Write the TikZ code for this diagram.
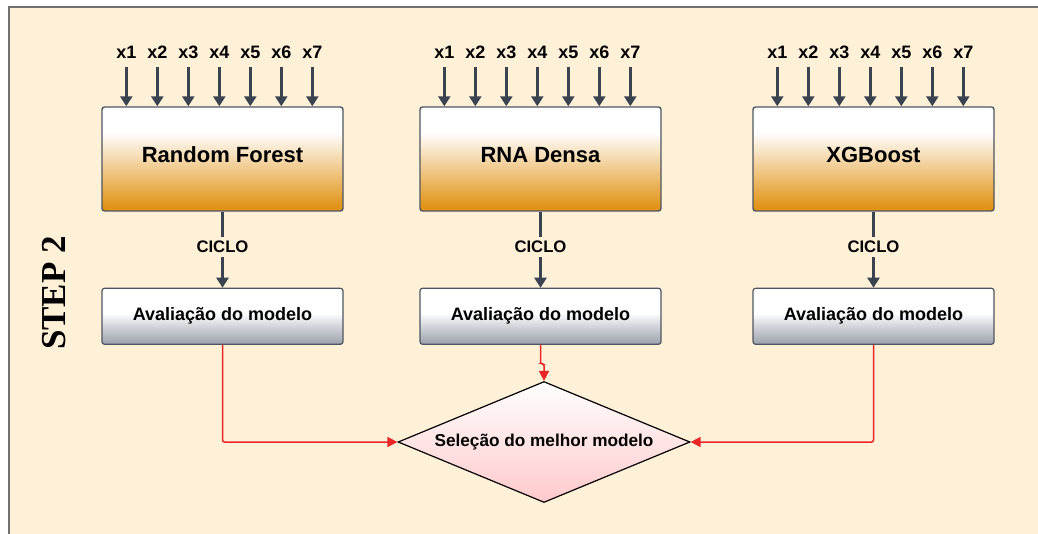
\documentclass[tikz,border=0pt]{standalone}
\usepackage{fontspec}
\setmainfont{Liberation Serif}
\setsansfont{Liberation Sans}
\usetikzlibrary{shapes.geometric, arrows.meta, positioning, calc}

\definecolor{bgcream}{HTML}{FFF1D8}
\definecolor{frameline}{HTML}{707070}
\definecolor{modelorange}{HTML}{E0900F}
\definecolor{evalgray}{HTML}{9BA1AC}
\definecolor{arrowslate}{HTML}{3A4350}
\definecolor{linkred}{HTML}{E8262A}
\definecolor{selpink}{HTML}{FFC9CB}

\pgfdeclareverticalshading{modelshade}{100bp}{color(0bp)=(modelorange); color(25bp)=(modelorange);
    color(29bp)=(modelorange!92!white); color(50bp)=(modelorange!35!white); color(63bp)=(white); color(100bp)=(white)}
\pgfdeclareverticalshading{evalshade}{100bp}{color(0bp)=(evalgray); color(25bp)=(evalgray);
    color(40bp)=(evalgray!50!white); color(53bp)=(white); color(100bp)=(white)}

\begin{document}
\begin{tikzpicture}[
    x=1pt, y=-1pt,
    node distance=76pt,
    model/.style={
        rectangle,
        draw=arrowslate!90,
        line width=1.4pt,
        rounded corners=2.5pt,
        shading=modelshade,
        minimum width=241pt,
        minimum height=104pt,
        align=center,
        text depth=8pt,
        font=\sffamily\bfseries\fontsize{22}{24}\selectfont
    },
    evalbox/.style={
        rectangle,
        draw=arrowslate!90,
        line width=1.2pt,
        rounded corners=2.5pt,
        shading=evalshade,
        minimum width=241pt,
        minimum height=56pt,
        align=center,
        font=\sffamily\bfseries\fontsize{18}{20}\selectfont
    },
    choice/.style={
        diamond,
        aspect=2.41,
        draw=black,
        line width=1.2pt,
        top color=white,
        bottom color=selpink,
        minimum width=292pt,
        minimum height=121pt,
        inner sep=0pt,
        align=center,
        font=\sffamily\bfseries\fontsize{17.2}{19}\selectfont
    },
    feature/.style={
        font=\sffamily\bfseries\fontsize{18}{20}\selectfont,
        inner sep=0pt
    },
    cycle/.style={
        fill=bgcream,
        inner sep=4pt,
        yshift=3pt,
        font=\sffamily\bfseries\fontsize{16.7}{18}\selectfont
    },
    arrow/.style={
        draw=arrowslate,
        line width=2.6pt,
        -{Triangle[length=10pt,width=12pt]}
    },
    redarrow/.style={
        draw=linkred,
        line width=1.5pt,
        rounded corners=2pt,
        -{Triangle[length=10pt,width=10pt]}
    }
]
    % Background
    \useasboundingbox (0,0) rectangle (1038,534);
    \fill [bgcream, draw=frameline, line width=1.2pt] (9,7) rectangle (1045,545);

    \node [rotate=90, font=\bfseries\fontsize{35}{38}\selectfont] (step) at (54,293) {STEP 2};

    % Nodes
    \node [model] (rf) at (222.5,159) {Random Forest};
    \node [model] (rna) at (540.5,159) {RNA Densa};
    \node [model] (xgb) at (873.5,159) {XGBoost};

    \node [evalbox, below=of rf] (rfeval) {Avaliação do modelo};
    \node [evalbox, below=of rna] (rnaeval) {Avaliação do modelo};
    \node [evalbox, below=of xgb] (xgbeval) {Avaliação do modelo};

    \node [choice] (sel) at (544,442) {Seleção do melhor modelo};

    % Inputs
    \foreach \m in {rf, rna, xgb} {
        \foreach \i in {1,...,7} {
            \node [feature] (\m x\i) at ($(\m.north west)+({25+31*(\i-1)},-54)$) {x\i};
            \draw [arrow] (\m x\i.south) ++(0,8) coordinate (\m s\i) -- (\m s\i |- \m.north);
        }
    }

    % Arrows
    \draw [arrow] (rf) -- node [cycle] {CICLO} (rfeval);
    \draw [arrow] (rna) -- node [cycle] {CICLO} (rnaeval);
    \draw [arrow] (xgb) -- node [cycle] {CICLO} (xgbeval);

    \draw [redarrow] (rfeval.south) |- (sel.west);
    \draw [redarrow] (rnaeval.south) -- ++(0,19) -| (sel.north);
    \draw [redarrow] (xgbeval.south) |- (sel.east);
\end{tikzpicture}
\end{document}
